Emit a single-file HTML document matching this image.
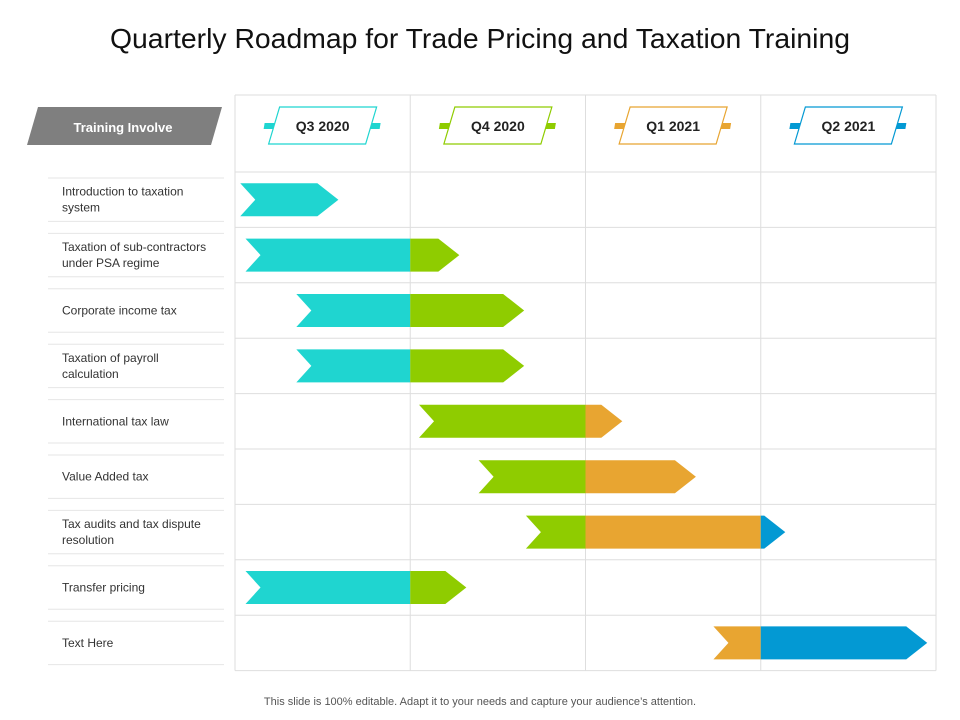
<!DOCTYPE html>
<html><head><meta charset="utf-8"><style>
body{margin:0;background:#fff;}
svg{display:block;font-family:"Liberation Sans",sans-serif;}
</style></head><body>
<svg id="c" width="960" height="720" viewBox="0 0 960 720">
<text x="480" y="48" text-anchor="middle" font-size="28" fill="#111" textLength="740" lengthAdjust="spacingAndGlyphs">Quarterly Roadmap for Trade Pricing and Taxation Training</text>
<polygon points="38,107 222,107 211,145 27,145" fill="#7f7f7f"/>
<text x="123" y="132" text-anchor="middle" font-size="13" font-weight="bold" fill="#fff">Training Involve</text>
<g id="grid"></g><g id="hdr"></g><g id="labels"></g><g id="bars"></g>
<text x="480" y="705" text-anchor="middle" font-size="11" fill="#555">This slide is 100% editable. Adapt it to your needs and capture your audience’s attention.</text>
</svg>
<script>
const quarters=["Q3 2020","Q4 2020","Q1 2021","Q2 2021"];
const tasks=[["Introduction to taxation","system"],["Taxation of sub-contractors","under PSA regime"],["Corporate income tax"],["Taxation of payroll","calculation"],["International tax law"],["Value Added tax"],["Tax audits and tax dispute","resolution"],["Transfer pricing"],["Text Here"]];
const starts=[0.03,0.06,0.35,0.35,1.05,1.39,1.66,0.06,2.73];
const ends=[0.59,1.28,1.65,1.65,2.21,2.63,3.14,1.32,3.95];
const colors=["#1fd5d0","#8fcc00","#e8a531","#0399d3"];
const NS="http://www.w3.org/2000/svg";
const X0=235,QW=175.25,HT=95,HB=172,RH=55.4,BH=33,D=15;
const x=q=>X0+q*QW, rowY=i=>HB+i*RH;
function mk(p,t,a){const e=document.createElementNS(NS,t);for(const k in a)e.setAttribute(k,a[k]);document.getElementById(p).appendChild(e);return e;}
const g="grid";
for(let i=0;i<=quarters.length;i++){const l=mk(g,"line",{x1:x(i),x2:x(i),y1:HT,y2:rowY(tasks.length),stroke:"#dedede"});

}
for(let i=-1;i<=tasks.length;i++){const y=i<0?HT:rowY(i);const l=mk(g,"line",{x1:X0,x2:x(4),y1:y,y2:y,stroke:"#dedede"});

}
quarters.forEach((q,i)=>{const cx=x(i+0.5),cy=126,c=colors[i];
const s=mk("hdr","polygon",{points:`${cx-58},${cy-3} ${cx-48},${cy-3} ${cx-49},${cy+3} ${cx-59},${cy+3}`,fill:c});


const s2=mk("hdr","polygon",{points:`${cx+48},${cy-3} ${cx+58},${cy-3} ${cx+57},${cy+3} ${cx+47},${cy+3}`,fill:c});


const p=mk("hdr","polygon",{points:`${cx-43},${cy-19} ${cx+54},${cy-19} ${cx+43},${cy+18} ${cx-54},${cy+18}`,fill:"#fff",stroke:c,"stroke-width":1.2});


const t=mk("hdr","text",{x:cx,y:cy+5,"text-anchor":"middle","font-size":14,"font-weight":"bold",fill:"#222"});t.textContent=q;

});
tasks.forEach((lines,i)=>{const top=rowY(i),cy=top+RH/2;
[top+6,top+RH-6].forEach(y=>{const l=mk("labels","line",{x1:48,x2:224,y1:y,y2:y,stroke:"#e6e6e6"});

});
const t=mk("labels","text",{x:62,y:cy-(lines.length-1)*8+4,"font-size":12,fill:"#333"});


lines.forEach((ln,k)=>{const ts=document.createElementNS(NS,"tspan");ts.setAttribute("x",62);ts.setAttribute("dy",k?16:0);ts.textContent=ln;t.appendChild(ts);});
const s=starts[i],e=ends[i],y1=cy-BH/2,y2=cy+BH/2;
for(let q=Math.floor(s);q<Math.ceil(e);q++){const a=Math.max(s,q),b=Math.min(e,q+1);const xa=x(a),xb=x(b);
let pts=[];
if(a===s)pts.push(`${xa},${y1}`,`${xa+D},${cy}`,`${xa},${y2}`);else pts.push(`${xa},${y2}`,`${xa},${y1}`);
if(b===e){pts=[`${xa},${y1}`,`${xb-D*1.4},${y1}`,`${xb},${cy}`,`${xb-D*1.4},${y2}`,`${xa},${y2}`];if(a===s)pts.push(`${xa+D},${cy}`);}
else{pts=[`${xa},${y1}`,`${xb},${y1}`,`${xb},${y2}`,`${xa},${y2}`];if(a===s)pts.push(`${xa+D},${cy}`);}
const p=mk("bars","polygon",{points:pts.join(" "),fill:colors[q]});

}
});
</script>
</body></html>
